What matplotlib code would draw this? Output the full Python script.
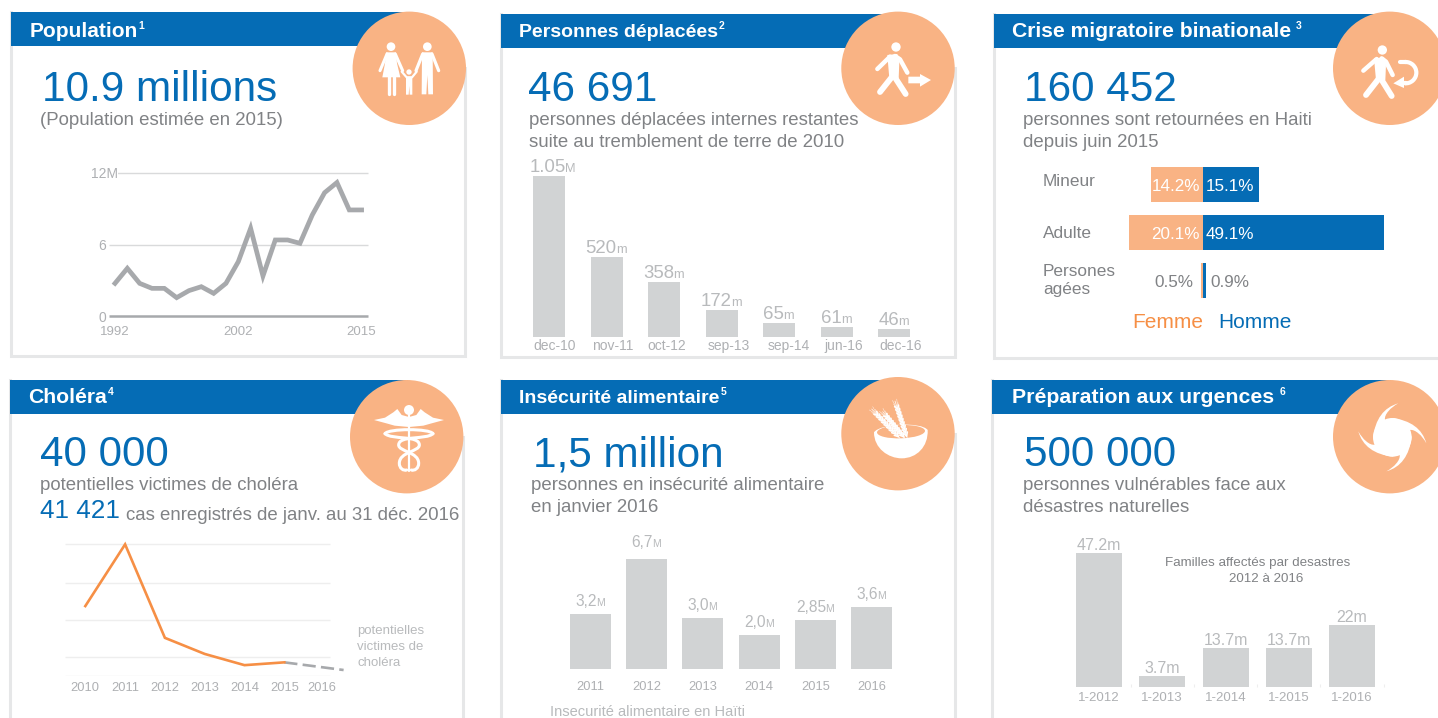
import matplotlib
matplotlib.use("Agg")
import matplotlib.pyplot as plt
import matplotlib.patches as mpatches
from matplotlib.path import Path
import numpy as np

plt.rcParams['font.family'] = ['Liberation Sans', 'DejaVu Sans']

W, H = 1438, 718
BLEU = "#056cb5"
PECHE = "#f9b384"
ORANGE = "#f68f45"
GRIS_TEXTE = "#808285"
GRIS_CLAIR = "#b8babc"
GRIS_AXE = "#a7a9ac"
GRIS_TICK = "#aeb0b3"
GRIS_BARRE = "#d1d3d4"
CADRE = "#e6e7e8"

# population, millions
pop_valeurs = [2.74, 4.0, 2.74, 2.32, 2.32, 1.54, 2.13, 2.46, 1.9, 2.74, 4.56,
               7.36, 3.36, 6.38, 6.38, 6.1, 8.48, 10.35, 11.2, 8.9, 8.9]
pop_ticks = ['1992', '2002', '2015']

# personnes deplacees, milliers
dep_mois = ['dec-10', 'nov-11', 'oct-12', 'sep-13', 'sep-14', 'jun-16', 'dec-16']
dep_barres = [1050, 520, 358, 172, 91, 63, 48]
dep_nombres = ['1.05', '520', '358', '172', '65', '61', '46']
dep_unites = ['M', 'm', 'm', 'm', 'm', 'm', 'm']

# crise migratoire, %
mig_groupes = ['Mineur', 'Adulte', 'Persones\nagées']
mig_femme = [14.2, 20.1, 0.5]
mig_homme = [15.1, 49.1, 0.9]

# cholera, milliers
chol_annees = ['2010', '2011', '2012', '2013', '2014', '2015', '2016']
chol_cas = [187, 352, 102, 59, 29, 36.5]
chol_prevu = [36.5, 16]
chol_grille = [52, 149, 248, 352]

# insecurite alimentaire, millions (la barre 2012 est plus courte que son etiquette)
ali_annees = ['2011', '2012', '2013', '2014', '2015', '2016']
ali_barres = [3.2, 6.45, 3.0, 2.0, 2.85, 3.6]
ali_nombres = ['3,2', '6,7', '3,0', '2,0', '2,85', '3,6']

# familles affectees, milliers
urg_periodes = ['1-2012', '1-2013', '1-2014', '1-2015', '1-2016']
urg_valeurs = [47.2, 3.7, 13.7, 13.7, 22]
urg_textes = ['47.2m', '3.7m', '13.7m', '13.7m', '22m']

fig = plt.figure(figsize=(W / 100, H / 100), dpi=100, facecolor='white')
rendu = fig.canvas.get_renderer()

# fond en pixels pour les cadres, bandeaux, icones
fond = fig.add_axes([0, 0, 1, 1])
fond.set_xlim(0, W)
fond.set_ylim(H, 0)
fond.axis('off')


def largeur(t):
    return t.get_window_extent(rendu).width


def zone(x0, y0, x1, y1, px0, pas, echelle):
    # axes places en pixels; px0 = pixel de l'indice 0, echelle = pixels par unite
    ax = fig.add_axes([x0 / W, 1 - y1 / H, (x1 - x0) / W, (y1 - y0) / H])
    ax.patch.set_alpha(0)
    for s in ax.spines.values():
        s.set_visible(False)
    ax.set_xlim((x0 - px0) / pas, (x1 - px0) / pas)
    ax.set_ylim(0, (y1 - y0) / echelle)
    ax.set_yticks([])
    return ax


def valeur(ax, x, y, nombre, unite, taille, petite, ecart=4, dx=0):
    a = ax.annotate(nombre, (x, y), xytext=(0, ecart * .72), textcoords='offset points',
                    color=GRIS_CLAIR, fontsize=taille, ha='left', va='baseline')
    b = ax.annotate(unite, (x, y), xytext=(0, ecart * .72), textcoords='offset points',
                    color=GRIS_CLAIR, fontsize=petite, ha='left', va='baseline')
    w1, w2 = largeur(a), largeur(b)
    a.set_position(((dx - (w1 + w2) / 2) * .72, ecart * .72))
    b.set_position(((dx + (w1 - w2) / 2) * .72 - .5, ecart * .72))


def panneau(x0, y1, x1, hy, cx, cy, titre, sup, tx, taille, gap=1, base=22.7):
    # cadre gris, bandeau bleu, rond peche
    fond.plot([x0 + 1, x0 + 1, x1, x1], [hy, y1, y1, cy], color=CADRE, lw=2.2, zorder=1,
              solid_joinstyle='miter')
    fond.add_patch(mpatches.Rectangle((x0 + 1, hy), cx - x0, 34, color=BLEU, lw=0, zorder=2))
    fond.add_patch(mpatches.Circle((cx, cy), 56.7, color=PECHE, lw=0, zorder=3))
    t = fond.text(tx, hy + base, titre, color='white', fontsize=taille, fontweight='bold', zorder=4)
    fond.text(tx + largeur(t) + gap, hy + base - 7.5, sup, color='white', fontsize=7.5, fontweight='bold', zorder=4)


def texte(x, y, s, taille=13.45, c=GRIS_TEXTE, **kw):
    return fond.text(x, y, s, fontsize=taille, color=c, zorder=5, **kw)


def trait(ox, oy, xs, ys, lw=3.2, c='white'):
    fond.plot([ox + v / 3 for v in xs], [oy + v / 3 for v in ys], color=c, lw=lw,
              solid_capstyle='round', solid_joinstyle='round', zorder=6)


def rond(ox, oy, x, y, r):
    fond.add_patch(mpatches.Circle((ox + x / 3, oy + y / 3), r / 3, color='white', lw=0, zorder=6))


def forme(ox, oy, pts):
    fond.add_patch(mpatches.Polygon([(ox + a / 3, oy + b / 3) for a, b in pts], color='white', lw=0, zorder=6))


def courbe(ox, oy, pts, c='white', rempli=True, lw=0, z=6):
    # points: depart puis paquets de trois points de Bezier
    verts = [(ox + a / 3, oy + b / 3) for a, b in pts]
    codes = [Path.MOVETO] + [Path.CURVE4] * (len(pts) - 1)
    fond.add_patch(mpatches.PathPatch(Path(verts, codes), facecolor=c if rempli else 'none',
                                      edgecolor=c if not rempli else 'none', lw=lw, zorder=z,
                                      capstyle='round'))


# ---- cadres
panneau(10, 356, 465, 12, 409.3, 68.3, 'Population', '1', 29.5, 15, base=24.7)
panneau(500, 357, 955, 14, 898, 68.3, 'Personnes déplacées', '2', 519, 14)
panneau(993, 358, 1450, 14, 1389.7, 68.3, 'Crise migratoire binationale', '3', 1012, 15.2, 5)
panneau(9, 730, 463, 380, 406.7, 436.7, 'Choléra', '4', 28.5, 15.2)
panneau(500, 730, 955, 380, 898, 433.7, 'Insécurité alimentaire', '5', 519, 14)
panneau(991, 730, 1450, 380, 1389.7, 436.7, 'Préparation aux urgences', '6', 1012, 15.3, 5)

# ---- textes
GRAND = 30.4
texte(41.5, 101, '10.9 millions', GRAND, BLEU)
texte(40, 125, '(Population estimée en 2015)')
texte(528.5, 101, '46 691', GRAND, BLEU)
texte(529, 125, 'personnes déplacées internes restantes')
texte(529, 147, 'suite au tremblement de terre de 2010')
texte(1024.5, 101, '160 452', GRAND, BLEU)
texte(1023, 125, 'personnes sont retournées en Haiti')
texte(1023, 147, 'depuis juin 2015')
texte(39.5, 466, '40 000', GRAND, BLEU)
texte(39.5, 490, 'potentielles victimes de choléra')
texte(39.5, 518, '41 421', 18.8, BLEU)
texte(126, 520, 'cas enregistrés de janv. au 31 déc. 2016')
texte(533, 466, '1,5 million', GRAND, BLEU)
texte(531, 490, 'personnes en insécurité alimentaire')
texte(531, 512, 'en janvier 2016')
texte(1023.5, 466, '500 000', GRAND, BLEU)
texte(1023, 490, 'personnes vulnérables face aux')
texte(1023, 512.5, 'désastres naturelles')
texte(357, 634, 'potentielles', 9.5, GRIS_CLAIR)
texte(357, 650, 'victimes de', 9.5, GRIS_CLAIR)
texte(357, 666, 'choléra', 9.5, GRIS_CLAIR)
texte(550, 716, 'Insecurité alimentaire en Haïti', 10.5, GRIS_CLAIR)
texte(1258, 566, 'Familles affectés par desastres', 9.6, ha='center')
texte(1266, 582, '2012 à 2016', 9.6, ha='center')
texte(1132, 328, 'Femme', 15, ORANGE)
texte(1218, 328, 'Homme', 15, BLEU)

# ---- population
ax = zone(100, 165, 372, 318, 115, 12.33, 143 / 12)
ax.set_ylim(-2 / (143 / 12), 151 / (143 / 12))
ax.hlines([6, 12], -0.49, 20.5, color='#d9dadb', lw=1, zorder=1)
ax.hlines(0, -0.49, 20.5, color=GRIS_AXE, lw=1.8, zorder=1)
ax.plot(range(len(pop_valeurs)), pop_valeurs, color=GRIS_AXE, lw=3.4, solid_joinstyle='miter', zorder=2)
ax.set_xticks([0, 10, 20], pop_ticks, color=GRIS_TICK, fontsize=9.5)
ax.tick_params(axis='x', length=0, pad=5.5)
ax.text(-0.75, 0, '0', color=GRIS_TICK, fontsize=10, ha='right', va='center_baseline')
ax.text(-0.75, 6, '6', color=GRIS_TICK, fontsize=10, ha='right', va='center_baseline')
ax.text(0.22, 12, '12M', color=GRIS_TICK, fontsize=10, ha='right', va='center_baseline',
        bbox=dict(fc='white', ec='none', pad=0), zorder=3)

# ---- deplaces
ax = zone(520, 160, 930, 336.7, 549, 57.5, 0.1533)
pos = np.arange(len(dep_mois))
ax.bar(pos, dep_barres, width=32 / 57.5, color=GRIS_BARRE)
for i in pos:
    valeur(ax, i, dep_barres[i], dep_nombres[i], dep_unites[i], 13.4, 9.2, dx=4 if i == 0 else 0)
ax.set_xticks(pos + np.array([.09, .1, .05, .12, .17, .12, .12]), dep_mois, color=GRIS_TICK, fontsize=10)
ax.tick_params(axis='x', length=0, pad=2)

# ---- migration
ax = zone(1040, 160, 1410, 305, 1203, 3.68, 1)
y_mig = [24.5, 72.5, 120.5]
ax.set_ylim(145, 0)
ax.barh(y_mig, [-v for v in mig_femme], height=35, color=PECHE)
ax.barh(y_mig, mig_homme, height=35, color=BLEU)
for y, f, h in zip(y_mig, mig_femme, mig_homme):
    dehors = f < 5
    ax.text(-f - 2 if dehors else -0.8, y + 2, '%.1f%%' % f, color=GRIS_TEXTE if dehors else 'white',
            fontsize=12.3, ha='right', va='center')
    ax.text(h + 1.2 if dehors else 0.8, y + 2, '%.1f%%' % h, color=GRIS_TEXTE if dehors else 'white',
            fontsize=12.3, ha='left', va='center')
ax.text(-43.5, 22, mig_groupes[0], color=GRIS_TEXTE, fontsize=12.4, ha='left', va='center')
ax.text(-43.5, 73, mig_groupes[1], color=GRIS_TEXTE, fontsize=12.4, ha='left', va='center')
ax.text(-43.5, 120.5, mig_groupes[2], color=GRIS_TEXTE, fontsize=12.4, ha='left', va='center', linespacing=1.32)
ax.set_xticks([])

# ---- cholera
ax = zone(65, 540, 345, 676, 85.3, 39.8, 0.374)
ax.hlines(chol_grille, -0.51, 6.14, color='#eeeeee', lw=1, zorder=1)
ax.hlines(0.5, -0.51, 6.14, color='#eeeeee', lw=1, zorder=1)
ax.plot(range(len(chol_cas)), chol_cas, color=ORANGE, lw=1.9, solid_joinstyle='miter', zorder=3)
ax.plot([5, 6.49], chol_prevu, color=GRIS_AXE, lw=1.9, dashes=(5, 2), zorder=2)
ax.set_xticks([0, 1, 2, 3, 4, 5, 5.93], chol_annees, color=GRIS_TICK, fontsize=9.3)
ax.tick_params(axis='x', length=0, pad=4)

# ---- insecurite alimentaire
ax = zone(560, 520, 900, 669, 590.5, 56.2, 17.1)
pos = np.arange(len(ali_annees))
ax.bar(pos, ali_barres, width=41 / 56.2, color=GRIS_BARRE)
for i in pos:
    valeur(ax, i, ali_barres[i], ali_nombres[i], 'M', 11.2, 7.5, ecart=12 if i == 1 else 8)
ax.set_xticks(pos, ali_annees, color=GRIS_TICK, fontsize=9.3)
ax.tick_params(axis='x', length=0, pad=8.5)

# ---- urgences
ax = zone(1070, 540, 1390, 687, 1099, 63.25, 2.84)
pos = np.arange(len(urg_periodes))
ax.bar(pos, urg_valeurs, width=46 / 63.25, color=GRIS_BARRE)
for i in pos:
    valeur(ax, i, urg_valeurs[i], urg_textes[i], '', 11.5, 8, ecart=3)
ax.set_xticks(pos, urg_periodes, color=GRIS_TICK, fontsize=9.5)
ax.set_xticks(pos + .5, minor=True)
ax.tick_params(axis='x', which='major', length=0, pad=3.5)
ax.tick_params(axis='x', which='minor', length=2, width=.8, color='#eeeeee', direction='in')

# ---- icones, coordonnees lues sur le zoom x3
# famille
ox, oy = 0, 0
rond(ox, oy, 1173, 140, 13)
rond(ox, oy, 1282, 140, 13)
rond(ox, oy, 1227, 216, 8)
forme(ox, oy, [(1158, 157), (1188, 157), (1191, 190), (1201, 232), (1147, 232), (1155, 190)])
trait(ox, oy, [1161, 1140], [162, 212], 2.2)
trait(ox, oy, [1186, 1208], [162, 212], 2.2)
trait(ox, oy, [1166, 1166], [232, 283], 2.4)
trait(ox, oy, [1181, 1181], [232, 283], 2.4)
forme(ox, oy, [(1266, 157), (1298, 157), (1299, 283), (1285, 283), (1282, 225), (1279, 283), (1265, 283)])
trait(ox, oy, [1268, 1248], [162, 212], 2.3)
trait(ox, oy, [1296, 1316], [162, 212], 2.3)
trait(ox, oy, [1205, 1220, 1236, 1250], [215, 232, 232, 215], 1.6)
forme(ox, oy, [(1218, 230), (1237, 230), (1237, 284), (1229, 284), (1228, 258), (1226, 284), (1218, 284)])

# marcheur + fleche
ox, oy = 490, 0
rond(ox, oy, 1218, 141, 14)
forme(ox, oy, [(1192, 165), (1222, 162), (1228, 185), (1226, 235), (1198, 235)])
trait(ox, oy, [1208, 1170], [228, 276], 4.2)
trait(ox, oy, [1212, 1247], [228, 282], 4.2)
trait(ox, oy, [1200, 1162], [170, 207], 3.2)
trait(ox, oy, [1215, 1230, 1252], [168, 178, 218], 3.2)
forme(ox, oy, [(1255, 230), (1290, 230), (1290, 222), (1323, 240), (1290, 260), (1290, 250), (1255, 250)])

# marcheur + retour
ox, oy = 980, 0
rond(ox, oy, 1207, 150, 14)
forme(ox, oy, [(1182, 175), (1212, 172), (1218, 195), (1216, 240), (1188, 240)])
trait(ox, oy, [1197, 1158], [235, 285], 4.2)
trait(ox, oy, [1202, 1235], [235, 288], 4.2)
trait(ox, oy, [1190, 1150], [177, 212], 3.2)
trait(ox, oy, [1205, 1218, 1238], [175, 185, 225], 3.2)
fond.add_patch(mpatches.Arc((ox + 1277 / 3, oy + 218 / 3), 64 / 3, 64 / 3, theta1=-95, theta2=95,
                            color='white', lw=3, zorder=6))
trait(ox, oy, [1277, 1260], [186, 186], 3)
trait(ox, oy, [1277, 1268], [250, 250], 3)
forme(ox, oy, [(1240, 250), (1272, 230), (1272, 264)])

# caducee, coordonnees du zoom (360, 395)
ox, oy = 360, 395
rond(ox, oy, 147, 45, 15)
forme(ox, oy, [(42, 75), (75, 68), (100, 52), (112, 42), (125, 60), (147, 66), (169, 60), (182, 42), (194, 52),
               (219, 68), (252, 75), (215, 85), (190, 92), (147, 96), (104, 92), (79, 85)])
trait(ox, oy, [147, 147], [60, 228], 1.6)
courbe(ox, oy, [(75, 116), (85, 100), (209, 100), (219, 116)], rempli=False, lw=2.2)
gauche = [(75, 116), (95, 135), (178, 120), (178, 150), (178, 170), (118, 170), (118, 205), (118, 220), (130, 228),
          (140, 225)]
courbe(ox, oy, gauche, rempli=False, lw=2.2)
courbe(ox, oy, [(294 - a, b) for a, b in gauche], rempli=False, lw=2.2)

# bol + ble, coordonnees du zoom (850, 395)
ox, oy = 850, 395
courbe(ox, oy, [(72, 112), (72, 160), (115, 190), (155, 190), (200, 190), (235, 155), (233, 105),
                (215, 80), (90, 85), (72, 112)])
fond.add_patch(mpatches.Ellipse((ox + 153 / 3, oy + 110 / 3), 144 / 3, 40 / 3, angle=-2, color=PECHE, lw=0, zorder=6))
for a, b, xf, yf in [(65, 42, 150, 130), (135, 18, 172, 130), (98, 50, 165, 130)]:
    dx, dy = xf - a, yf - b
    n = np.hypot(dx, dy)
    ux, uy = dx / n, dy / n
    trait(ox, oy, [a, xf], [b, yf], 0.5)
    for f in np.arange(0.22, 1.0, 0.09):
        px, py = a + dx * f, b + dy * f
        for sg in (-1, 1):
            trait(ox, oy, [px, px - ux * 11 - sg * uy * 6], [py, py - uy * 11 + sg * ux * 6], 1.2)
            trait(ox, oy, [px, px - ux * 30 - sg * uy * 7], [py, py - uy * 30 + sg * ux * 7], 0.3)

# cyclone, coordonnees du zoom (1345, 395)
ox, oy = 1345, 395
cx, cy = 142, 127
rond(ox, oy, cx, cy, 58)
bras = [(18, -102), (-25, -90), (-52, -55), (-58, 3), (-30, 3), (-10, 0), (0, 0), (-8, -25), (-15, -40), (-22, -53),
        (-25, -68), (-5, -90), (18, -102)]
for k in range(4):
    pts = bras
    for _ in range(k):
        pts = [(-y, x) for x, y in pts]
    courbe(ox, oy, [(cx + x, cy + y) for x, y in pts])

fig.savefig('out.png', dpi=100, facecolor='white')
